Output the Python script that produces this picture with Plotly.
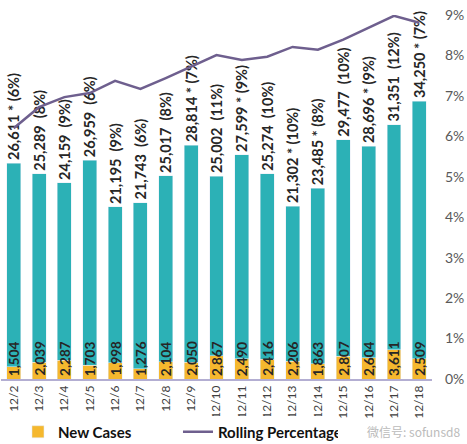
import plotly.graph_objects as go

dates = ["12/2", "12/3", "12/4", "12/5", "12/6", "12/7", "12/8", "12/9", "12/10",
         "12/11", "12/12", "12/13", "12/14", "12/15", "12/16", "12/17", "12/18"]
total_tests = [26611, 25289, 24159, 26959, 21195, 21743, 25017, 28814, 25002,
               27599, 25274, 21302, 23485, 29477, 28696, 31351, 34250]
new_cases = [1504, 2039, 2287, 1703, 1998, 1276, 2104, 2050, 2867,
             2490, 2416, 2206, 1863, 2807, 2604, 3611, 2509]
total_labels = ["26,611 * (6%)", "25,289  (8%)", "24,159  (9%)", "26,959  (6%)",
                "21,195  (9%)", "21,743  (6%)", "25,017  (8%)", "28,814 * (7%)",
                "25,002  (11%)", "27,599 * (9%)", "25,274  (10%)", "21,302 * (10%)",
                "23,485 * (8%)", "29,477  (10%)", "28,696 * (9%)", "31,351  (12%)",
                "34,250 * (7%)"]
rolling_pct = [6.2, 6.72, 6.97, 7.07, 7.37, 7.17, 7.44, 7.72, 8.01,
               7.89, 7.97, 8.21, 8.14, 8.39, 8.68, 8.98, 8.81]

remainder = [t - n for t, n in zip(total_tests, new_cases)]
new_labels = [f"{n:,}" for n in new_cases]

FONT = "Lato"
fig = go.Figure()
fig.add_trace(go.Bar(
    x=dates, y=new_cases, name="New Cases", marker_color="#F5B82E",
))
fig.add_trace(go.Bar(
    x=dates, y=remainder, name="Total", marker_color="#2CB1B6", showlegend=False,
    text=total_labels, textposition="outside", textangle=-90, constraintext="none",
    cliponaxis=False,
    textfont=dict(family=FONT, size=14.5, color="#262626", weight="bold"),
))
fig.add_trace(go.Scatter(
    x=dates, y=rolling_pct, name="Rolling Percentage", yaxis="y2", mode="lines",
    line=dict(color="#6E5F8E", width=2.5),
))

annotations = []
for d, lab in zip(dates, new_labels):
    annotations.append(dict(
        x=d, y=0, xref="x", yref="y", text=lab, textangle=-90,
        showarrow=False, yanchor="bottom", xanchor="center", yshift=1,
        font=dict(family=FONT, size=13.5, color="#262626", weight="bold"),
    ))
annotations.append(dict(
    text="微信号: sofunsd8", xref="paper", yref="paper",
    x=1.07, y=-0.145, xanchor="right", yanchor="middle", showarrow=False,
    font=dict(family="Noto Sans CJK SC", size=12, color="#BBBBBB")))

fig.update_layout(
    width=467, height=444,
    barmode="stack", bargap=0.45,
    margin=dict(l=1, r=35, t=15, b=65),
    plot_bgcolor="white", paper_bgcolor="white",
    font=dict(family=FONT, color="#404040"),
    xaxis=dict(tickangle=-90, tickfont=dict(size=12, color="#404040"),
               showline=True, linecolor="#B3AED2", linewidth=1.5,
               ticks="", showgrid=False, automargin=False),
    yaxis=dict(range=[0, 44845], visible=False, showgrid=False, automargin=False),
    yaxis2=dict(overlaying="y", side="right", range=[0, 9], dtick=1,
                ticksuffix="%", showgrid=False, zeroline=False, automargin=False,
                ticklabelstandoff=12,
                tickfont=dict(size=14, color="#595959")),
    legend=dict(orientation="h", xref="container", yref="container",
                x=0.0385, y=0.027, yanchor="middle", xanchor="left",
                font=dict(size=15, color="#111111", weight="bold"),
                itemwidth=30, traceorder="normal",
                entrywidth=115, entrywidthmode="pixels"),
    annotations=annotations,
)

fig.write_html("out.html", config={"displayModeBar": False},
               post_script="document.body.style.margin='0';")
